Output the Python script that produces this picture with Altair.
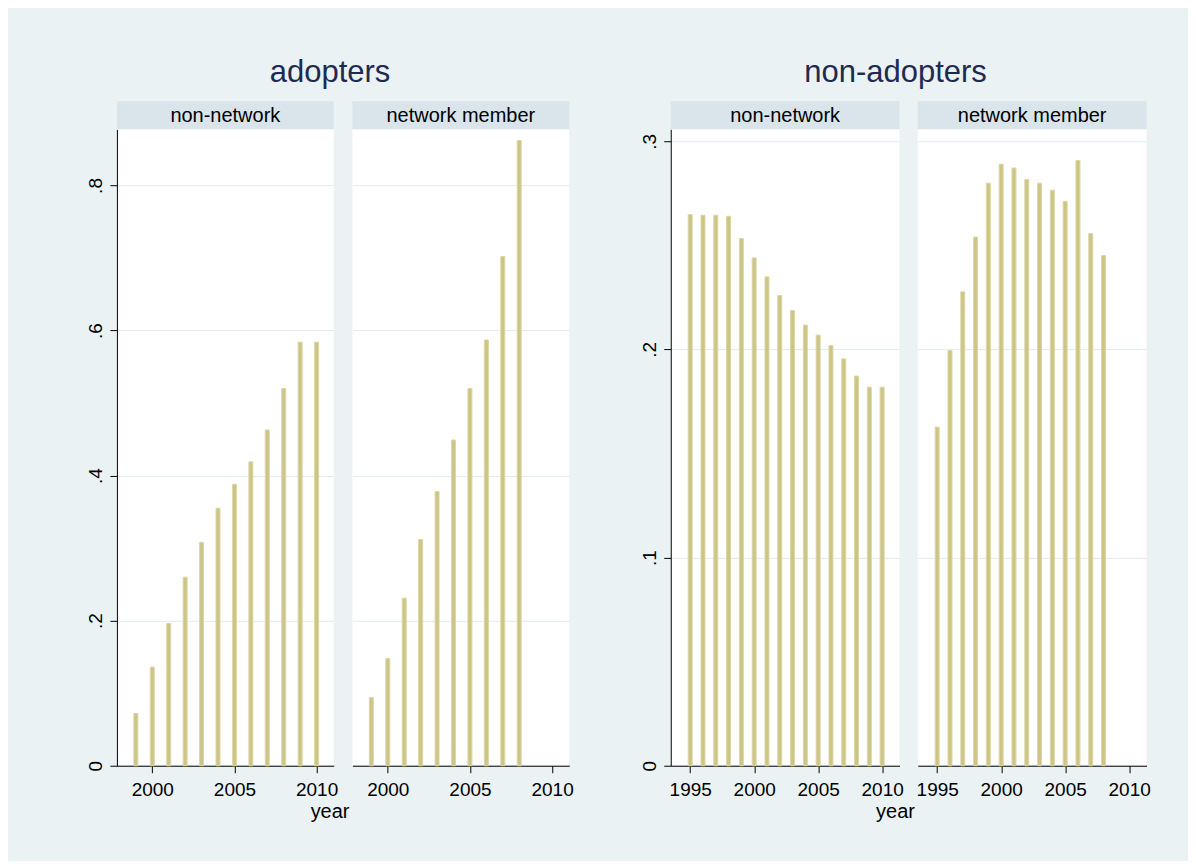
import altair as alt
import pandas as pd

# ---- data ----
years_adopt_nonnet = [1999, 2000, 2001, 2002, 2003, 2004, 2005, 2006, 2007, 2008, 2009, 2010]
share_adopt_nonnet = [0.072, 0.136, 0.196, 0.260, 0.308, 0.355, 0.388, 0.419, 0.463, 0.520, 0.584, 0.584]

years_adopt_member = [1999, 2000, 2001, 2002, 2003, 2004, 2005, 2006, 2007, 2008]
share_adopt_member = [0.094, 0.148, 0.231, 0.312, 0.378, 0.449, 0.520, 0.587, 0.702, 0.862]

years_non_nonnet = [1995, 1996, 1997, 1998, 1999, 2000, 2001, 2002, 2003, 2004, 2005, 2006, 2007, 2008, 2009, 2010]
share_non_nonnet = [0.2648, 0.2645, 0.2645, 0.2640, 0.2533, 0.2440, 0.2349, 0.2259, 0.2187, 0.2117,
                    0.2069, 0.2019, 0.1955, 0.1872, 0.1819, 0.1819]

years_non_member = [1995, 1996, 1997, 1998, 1999, 2000, 2001, 2002, 2003, 2004, 2005, 2006, 2007, 2008]
share_non_member = [0.1627, 0.1995, 0.2277, 0.2540, 0.2799, 0.2890, 0.2872, 0.2817, 0.2799, 0.2765,
                    0.2712, 0.2908, 0.2557, 0.2451]

panel_labels = ["non-network", "network member"]
group_titles = ["adopters", "non-adopters"]
x_title = "year"

x_ticks_adopt = [2000, 2005, 2010]
x_ticks_non = [1995, 2000, 2005, 2010]
y_ticks_adopt = [0, 0.2, 0.4, 0.6, 0.8]
y_labels_adopt = ["0", ".2", ".4", ".6", ".8"]
y_ticks_non = [0, 0.1, 0.2, 0.3]
y_labels_non = ["0", ".1", ".2", ".3"]

# ---- style ----
FONT = "Liberation Sans"
BG = "#EAF2F3"
STRIP = "#D9E5EA"
BAR = "#CCC586"
BAR_EDGE = "#DDD7A6"
GRID = "#E1EBEE"
TITLE_COLOR = "#1E2A52"
PH = 637          # plot height
STRIP_H = 28


def label_expr(ticks, labels):
    t = "[" + ",".join(repr(v) for v in ticks) + "]"
    l = "[" + ",".join("'" + s + "'" for s in labels) + "]"
    return f"{l}[indexof({t}, datum.value)]"


def panel(years, values, label, xdom, xticks, ydom, yticks, ylabels, W, show_y):
    df = pd.DataFrame({"year": years, "share": values})
    if show_y:
        yaxis = alt.Axis(values=yticks, labelExpr=label_expr(yticks, ylabels), labelAngle=270,
                         labelAlign="center", labelBaseline="alphabetic", labelPadding=8,
                         tickSize=7, tickColor="black", domainColor="black", labelColor="black",
                         labelFont=FONT, labelFontSize=19, grid=True, gridColor=GRID, title=None)
    else:
        yaxis = alt.Axis(values=yticks, labels=False, ticks=False, domain=False,
                         grid=True, gridColor=GRID, title=None)
    xaxis = alt.Axis(values=xticks, format="d", tickSize=7, tickColor="black", domainColor="black",
                     labelColor="black", labelFont=FONT, labelFontSize=19, labelPadding=8,
                     grid=False, title=None)
    bars = alt.Chart(df).mark_bar(size=4, color=BAR, stroke=BAR_EDGE, strokeWidth=1).encode(
        x=alt.X("year:Q", scale=alt.Scale(domain=xdom, nice=False, zero=False), axis=xaxis),
        y=alt.Y("share:Q", scale=alt.Scale(domain=ydom, nice=False), axis=yaxis),
    )
    lab = pd.DataFrame({"label": [label]})
    strip = alt.Chart(lab).mark_rect(color=STRIP, clip=False).encode(
        x=alt.value(0), x2=alt.value(W), y=alt.value(-STRIP_H), y2=alt.value(0))
    text = alt.Chart(lab).mark_text(font=FONT, fontSize=20, color="black", baseline="middle").encode(
        text="label:N", x=alt.value(W / 2), y=alt.value(-STRIP_H / 2 + 1))
    return alt.layer(bars, strip, text).properties(width=W, height=PH)


def group(p1, p2, spacing, title):
    inner = alt.hconcat(p1, p2, spacing=spacing).properties(
        title=alt.TitleParams(x_title, orient="bottom", anchor="middle", font=FONT, fontSize=20,
                              fontWeight="normal", color="black", offset=2))
    return alt.vconcat(inner).properties(
        title=alt.TitleParams(title, anchor="middle", font=FONT, fontSize=31, fontWeight="normal",
                              color=TITLE_COLOR, offset=12))


xdom_a = [1998.15, 2010.74]
ydom_a = [0, 0.8775]
xdom_n = [1993.87, 2010.97]
ydom_n = [0, 0.3058]

a1 = panel(years_adopt_nonnet, share_adopt_nonnet, panel_labels[0], xdom_a, x_ticks_adopt,
           ydom_a, y_ticks_adopt, y_labels_adopt, 217, True)
a2 = panel(years_adopt_member, share_adopt_member, panel_labels[1], xdom_a, x_ticks_adopt,
           ydom_a, y_ticks_adopt, y_labels_adopt, 217, False)
n1 = panel(years_non_nonnet, share_non_nonnet, panel_labels[0], xdom_n, x_ticks_non,
           ydom_n, y_ticks_non, y_labels_non, 229, True)
n2 = panel(years_non_member, share_non_member, panel_labels[1], xdom_n, x_ticks_non,
           ydom_n, y_ticks_non, y_labels_non, 229, False)

chart = alt.hconcat(
    group(a1, a2, 14.7, group_titles[0]),
    group(n1, n2, 12.2, group_titles[1]),
    spacing=66.3,
).properties(
    background=BG,
    padding={"left": 78, "top": 49, "right": 37, "bottom": 39},
).configure_view(fill="white", stroke=None)

chart.save("out.html", embed_options={"renderer": "svg", "actions": False})
